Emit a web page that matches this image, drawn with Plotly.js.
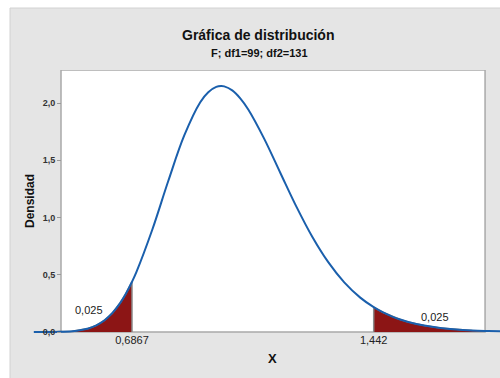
<!DOCTYPE html>
<html>
<head>
<meta charset="utf-8">
<script src="https://cdn.plot.ly/plotly-3.0.1.min.js"></script>
<style>html,body{margin:0;padding:0;background:#fff;}#chart{width:500px;height:378px;}</style>
</head>
<body>
<div id="chart"></div>
<script>
// F density (df1=99, df2=131)
const xVals = [0.38, 0.40, 0.45, 0.50, 0.55, 0.575, 0.60, 0.625, 0.65, 0.6675, 0.6867, 0.70, 0.75, 0.80, 0.85, 0.90, 0.925, 0.95, 0.965, 0.975, 1.00, 1.025, 1.05, 1.10, 1.15, 1.20, 1.25, 1.30, 1.35, 1.40, 1.442, 1.47, 1.50, 1.525, 1.55, 1.575, 1.60, 1.65, 1.70, 1.75, 1.79, 1.80, 1.85];
const density = [0.0000, 0.0001, 0.0010, 0.0067, 0.0305, 0.0574, 0.1004, 0.1646, 0.2546, 0.3345, 0.4388, 0.5211, 0.8931, 1.3188, 1.7163, 2.0068, 2.0946, 2.1405, 2.1480, 2.1449, 2.1101, 2.0409, 1.9432, 1.6868, 1.3911, 1.0969, 0.8318, 0.6096, 0.4334, 0.3002, 0.2166, 0.1728, 0.1347, 0.1090, 0.0878, 0.0704, 0.0563, 0.0356, 0.0223, 0.0138, 0.0092, 0.0084, 0.0051];
const leftCut = 0.6867;
const rightCut = 1.442;
const frameRight = 1.79;
const tailProb = ['0,025', '0,025'];
const yTicks = [0, 0.5, 1.0, 1.5, 2.0];
const yTickText = ['0,0', '0,5', '1,0', '1,5', '2,0'];
const xTicks = [leftCut, rightCut];
const xTickText = ['0,6867', '1,442'];

const W = 500, H = 378;
const pxL = 30, pxR = 500;
const pyTop = 70, pyBot = 344;
const xMin = 0.6867 - (132 - pxL) / 320, xMax = 1.442 + (pxR - 373.7) / 320;
const yPerUnit = 114.5, yZeroPx = 332;
const yMax = (yZeroPx - pyTop) / yPerUnit, yMin = -(pyBot - yZeroPx) / yPerUnit;

function tail(lo, hi) {
  const xs = [], ys = [];
  for (let i = 0; i < xVals.length; i++) {
    if (xVals[i] >= lo && xVals[i] <= hi) { xs.push(xVals[i]); ys.push(density[i]); }
  }
  return {x: [xs[0]].concat(xs, [xs[xs.length - 1]]), y: [0].concat(ys, [0])};
}
const lt = tail(xVals[0], leftCut);
const rt = tail(rightCut, frameRight);

const traces = [
  {x: lt.x, y: lt.y, type: 'scatter', mode: 'lines', fill: 'toself', fillcolor: '#8c1515',
   line: {color: '#8a8a8a', width: 1.5}, hoverinfo: 'skip', showlegend: false},
  {x: rt.x, y: rt.y, type: 'scatter', mode: 'lines', fill: 'toself', fillcolor: '#8c1515',
   line: {color: '#8a8a8a', width: 1.5}, hoverinfo: 'skip', showlegend: false},
  {x: xVals, y: density, type: 'scatter', mode: 'lines', line: {color: '#1a5fac', width: 2, shape: 'spline', smoothing: 1},
   hoverinfo: 'skip', showlegend: false}
];

const font = "'Liberation Sans', Arial, sans-serif";
const layout = {
  width: W, height: H,
  margin: {l: 0, r: 0, t: 0, b: 0},
  paper_bgcolor: '#ffffff', plot_bgcolor: 'rgba(0,0,0,0)',
  separators: ',.',
  showlegend: false,
  xaxis: {
    domain: [pxL / W, pxR / W], range: [xMin, xMax],
    anchor: 'free', position: (H - yZeroPx) / H,
    showgrid: false, zeroline: false, showline: false,
    tickmode: 'array', tickvals: xTicks, ticktext: xTickText,
    ticks: '', tickfont: {family: font, size: 11, color: '#222'},
    fixedrange: true
  },
  yaxis: {
    domain: [(H - pyBot) / H, (H - pyTop) / H], range: [yMin, yMax],
    anchor: 'free', position: 61 / W,
    showgrid: false, zeroline: false, showline: false,
    tickmode: 'array', tickvals: yTicks, ticktext: yTickText,
    ticks: 'outside', ticklen: 4, tickcolor: '#999', tickwidth: 1,
    tickfont: {family: font, size: 9, color: '#333', weight: 'bold'},
    fixedrange: true
  },
  shapes: [
    {type: 'rect', xref: 'paper', yref: 'paper', x0: 10 / W, x1: 1.01, y0: -0.01, y1: 1 - 8 / H,
     fillcolor: '#e5e5e5', line: {color: '#d2d2d2', width: 1}, layer: 'below'},
    {type: 'rect', xref: 'x', yref: 'y', x0: 0.6867 - (132 - 61) / 320, x1: frameRight, y0: 0, y1: yMax,
     fillcolor: '#ffffff', line: {color: '#a9a9a9', width: 1.5}, layer: 'below'}
  ],
  annotations: [
    {xref: 'paper', yref: 'paper', x: 258 / W, y: 1 - 35 / H, text: 'Gráfica de distribución', showarrow: false,
     font: {family: font, size: 14, color: '#111', weight: 'bold'}, xanchor: 'center', yanchor: 'middle'},
    {xref: 'paper', yref: 'paper', x: 259 / W, y: 1 - 53 / H, text: 'F; df1=99; df2=131', showarrow: false,
     font: {family: font, size: 11, color: '#111', weight: 'bold'}, xanchor: 'center', yanchor: 'middle'},
    {xref: 'paper', yref: 'paper', x: 272 / W, y: 1 - 358 / H, text: 'X', showarrow: false,
     font: {family: font, size: 13, color: '#111', weight: 'bold'}, xanchor: 'center', yanchor: 'middle'},
    {xref: 'paper', yref: 'paper', x: 30 / W, y: 1 - 201 / H, text: 'Densidad', showarrow: false, textangle: -90,
     font: {family: font, size: 12, color: '#111', weight: 'bold'}, xanchor: 'center', yanchor: 'middle'},
    {xref: 'paper', yref: 'paper', x: 89 / W, y: 1 - 310 / H, text: tailProb[0], showarrow: false,
     font: {family: font, size: 11, color: '#222'}, xanchor: 'center', yanchor: 'middle'},
    {xref: 'paper', yref: 'paper', x: 435 / W, y: 1 - 317 / H, text: tailProb[1], showarrow: false,
     font: {family: font, size: 11, color: '#222'}, xanchor: 'center', yanchor: 'middle'}
  ]
};
Plotly.newPlot('chart', traces, layout, {staticPlot: true, displayModeBar: false});
</script>
</body>
</html>
